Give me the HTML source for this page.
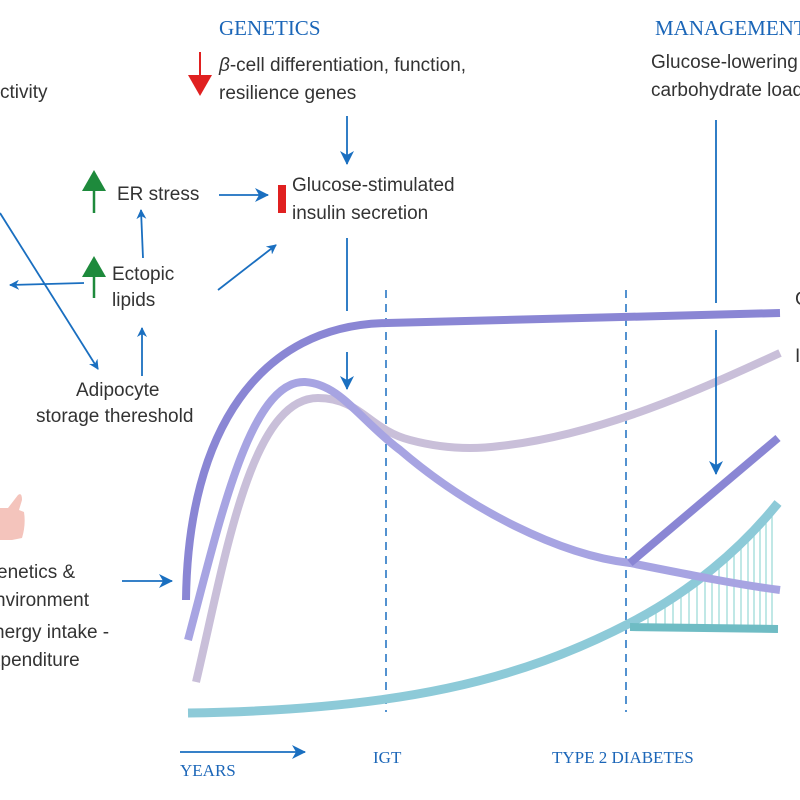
<!DOCTYPE html>
<html><head><meta charset="utf-8"><style>
html,body{margin:0;padding:0;background:#fff;}
svg{display:block;}
.t{font-family:"Liberation Sans",sans-serif;font-size:19px;fill:#333;}
.s{font-family:"Liberation Serif",serif;fill:#1b66b8;}
</style></head><body>
<svg width="800" height="800" viewBox="0 0 800 800" xmlns="http://www.w3.org/2000/svg">
<defs>
<marker id="a" markerWidth="10" markerHeight="10" refX="9" refY="5" orient="auto" markerUnits="userSpaceOnUse"><path d="M0,0 L10,5 L0,10 L3,5 Z" fill="#1a6fc0"/></marker>
<marker id="b" markerWidth="14" markerHeight="14" refX="13" refY="7" orient="auto" markerUnits="userSpaceOnUse"><path d="M0,0 L14,7 L0,14 L4,7 Z" fill="#1a6fc0"/></marker>
</defs>
<line x1="386" y1="290" x2="386" y2="712" stroke="#1a6fc0" stroke-width="1.5" stroke-dasharray="8,6"/>
<line x1="626" y1="290" x2="626" y2="712" stroke="#1a6fc0" stroke-width="1.5" stroke-dasharray="8,6"/>
<g stroke="#9fdbd8" stroke-width="1.3">
<line x1="648" y1="625" x2="648" y2="613"/><line x1="656" y1="625" x2="656" y2="608"/><line x1="665" y1="625" x2="665" y2="603"/><line x1="673" y1="625" x2="673" y2="598"/><line x1="681" y1="625" x2="681" y2="592"/><line x1="689" y1="625" x2="689" y2="587"/><line x1="697" y1="625" x2="697" y2="581"/><line x1="705" y1="625" x2="705" y2="575"/><line x1="712" y1="625" x2="712" y2="569"/><line x1="719" y1="625" x2="719" y2="563"/><line x1="727" y1="625" x2="727" y2="557"/><line x1="734" y1="625" x2="734" y2="550"/><line x1="741" y1="625" x2="741" y2="544"/><line x1="748" y1="625" x2="748" y2="536"/><line x1="754" y1="625" x2="754" y2="530"/><line x1="760" y1="625" x2="760" y2="524"/><line x1="766" y1="625" x2="766" y2="517"/><line x1="772" y1="625" x2="772" y2="510"/>
</g>
<path d="M188,713 C400,710 520,680 630,623 C690,592 740,550 778,503" fill="none" stroke="#8dcad8" stroke-width="9"/>
<line x1="630" y1="627" x2="778" y2="629" stroke="#6fbcc4" stroke-width="8"/>
<path d="M196,682 C225,560 250,398 318,398 C360,398 370,430 410,440 C440,448 470,450 500,446 C600,435 700,390 780,353" fill="none" stroke="#c9bfd9" stroke-width="8"/>
<path d="M188,640 C220,520 250,380 305,382 C340,384 360,420 400,450 C470,510 560,555 630,563 C690,575 740,585 780,590" fill="none" stroke="#a7a4e2" stroke-width="8"/>
<path d="M186,600 C188,430 260,325 387,323 L780,313" fill="none" stroke="#8a86d4" stroke-width="8"/>
<line x1="630" y1="563" x2="778" y2="438" stroke="#8a86d4" stroke-width="8"/>
<text class="t" x="0" y="98">ctivity</text>
<text class="s" x="219" y="35" font-size="21">GENETICS</text>
<line x1="200" y1="52" x2="200" y2="78" stroke="#e02020" stroke-width="2"/>
<path d="M188,75 L212,75 L200,96 Z" fill="#e02020"/>
<text class="t" x="219" y="71"><tspan font-style="italic">β</tspan>-cell differentiation, function,</text>
<text class="t" x="219" y="99">resilience genes</text>
<line x1="347" y1="116" x2="347" y2="164" stroke="#1a6fc0" stroke-width="1.8" marker-end="url(#b)"/>
<rect x="278" y="185" width="8" height="28" fill="#e02020"/>
<text class="t" x="292" y="191">Glucose-stimulated</text>
<text class="t" x="292" y="219">insulin secretion</text>
<line x1="219" y1="195" x2="268" y2="195" stroke="#1a6fc0" stroke-width="1.8" marker-end="url(#b)"/>
<text class="t" x="117" y="200">ER stress</text>
<line x1="94" y1="213" x2="94" y2="188" stroke="#1e8a3c" stroke-width="2.5"/>
<path d="M82,191 L106,191 L94,170 Z" fill="#1e8a3c"/>
<text class="t" x="112" y="280">Ectopic</text>
<text class="t" x="112" y="306">lipids</text>
<line x1="94" y1="298" x2="94" y2="274" stroke="#1e8a3c" stroke-width="2.5"/>
<path d="M82,277 L106,277 L94,256 Z" fill="#1e8a3c"/>
<line x1="143" y1="258" x2="141" y2="210" stroke="#1a6fc0" stroke-width="1.8" marker-end="url(#a)"/>
<line x1="84" y1="283" x2="10" y2="285" stroke="#1a6fc0" stroke-width="1.8" marker-end="url(#a)"/>
<line x1="218" y1="290" x2="276" y2="245" stroke="#1a6fc0" stroke-width="1.8" marker-end="url(#a)"/>
<line x1="0" y1="213" x2="98" y2="369" stroke="#1a6fc0" stroke-width="1.8" marker-end="url(#a)"/>
<text class="t" x="76" y="396">Adipocyte</text>
<text class="t" x="36" y="422">storage thereshold</text>
<line x1="142" y1="376" x2="142" y2="328" stroke="#1a6fc0" stroke-width="1.8" marker-end="url(#a)"/>
<line x1="347" y1="238" x2="347" y2="311" stroke="#1a6fc0" stroke-width="1.8"/>
<line x1="347" y1="352" x2="347" y2="389" stroke="#1a6fc0" stroke-width="1.8" marker-end="url(#b)"/>
<path d="M0,508 L8,508 L18,495 Q22,492 22,500 L19,510 L24,512 Q26,525 22,538 L12,540 L0,540 Z" fill="#f4c4bc"/>
<text class="t" x="-3" y="578" font-size="20" fill="#222">enetics &amp;</text>
<text class="t" x="-5" y="606" font-size="20" fill="#222">nvironment</text>
<text class="t" x="-6" y="638">nergy intake -</text>
<text class="t" x="-9" y="666">xpenditure</text>
<line x1="122" y1="581" x2="172" y2="581" stroke="#1a6fc0" stroke-width="1.8" marker-end="url(#b)"/>
<line x1="180" y1="752" x2="305" y2="752" stroke="#1a6fc0" stroke-width="1.8" marker-end="url(#b)"/>
<text class="s" x="180" y="776" font-size="17">YEARS</text>
<text class="s" x="373" y="763" font-size="17">IGT</text>
<text class="s" x="552" y="763" font-size="17">TYPE 2 DIABETES</text>
<text class="s" x="655" y="35" font-size="21">MANAGEMENT</text>
<text class="t" x="651" y="68">Glucose-lowering</text>
<text class="t" x="651" y="96">carbohydrate load</text>
<line x1="716" y1="120" x2="716" y2="303" stroke="#1a6fc0" stroke-width="1.8"/>
<line x1="716" y1="330" x2="716" y2="474" stroke="#1a6fc0" stroke-width="1.8" marker-end="url(#b)"/>
<text class="t" x="795" y="305" fill="#8a86d4">G</text>
<text class="t" x="795" y="362" fill="#aaa">I</text>
</svg>
</body></html>
